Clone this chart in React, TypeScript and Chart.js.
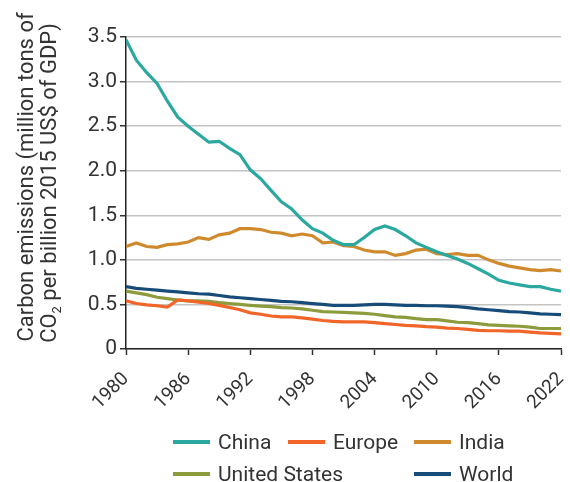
import React, { useEffect, useRef } from 'react';
import { Chart, registerables } from 'chart.js';

Chart.register(...registerables);

const years = [
  1980, 1981, 1982, 1983, 1984, 1985, 1986, 1987, 1988, 1989,
  1990, 1991, 1992, 1993, 1994, 1995, 1996, 1997, 1998, 1999,
  2000, 2001, 2002, 2003, 2004, 2005, 2006, 2007, 2008, 2009,
  2010, 2011, 2012, 2013, 2014, 2015, 2016, 2017, 2018, 2019,
  2020, 2021, 2022,
];

const xTickYears = [1980, 1986, 1992, 1998, 2004, 2010, 2016, 2022];
const yTickValues = [0, 0.5, 1.0, 1.5, 2.0, 2.5, 3.0, 3.5];

const china = [
  3.47, 3.24, 3.1, 2.98, 2.78, 2.6, 2.5, 2.41, 2.32, 2.33,
  2.25, 2.18, 2.01, 1.91, 1.78, 1.65, 1.57, 1.45, 1.35, 1.3,
  1.22, 1.17, 1.17, 1.25, 1.34, 1.38, 1.34, 1.27, 1.19, 1.14,
  1.09, 1.05, 1.01, 0.96, 0.9, 0.84, 0.77, 0.74, 0.72, 0.7,
  0.7, 0.67, 0.65,
];

const europe = [
  0.54, 0.51, 0.495, 0.485, 0.47, 0.55, 0.54, 0.525, 0.51, 0.49,
  0.465, 0.44, 0.405, 0.39, 0.37, 0.36, 0.36, 0.35, 0.335, 0.32,
  0.31, 0.305, 0.305, 0.305, 0.295, 0.285, 0.275, 0.265, 0.26, 0.25,
  0.245, 0.235, 0.23, 0.22, 0.21, 0.205, 0.205, 0.2, 0.2, 0.19,
  0.18, 0.175, 0.17,
];

const india = [
  1.15, 1.19, 1.15, 1.14, 1.17, 1.18, 1.2, 1.25, 1.23, 1.28,
  1.3, 1.35, 1.35, 1.34, 1.31, 1.3, 1.27, 1.29, 1.27, 1.19,
  1.2, 1.16, 1.15, 1.11, 1.09, 1.09, 1.05, 1.07, 1.11, 1.12,
  1.07, 1.06, 1.07, 1.05, 1.05, 1.0, 0.96, 0.93, 0.91, 0.89,
  0.88, 0.89, 0.875,
];

const unitedStates = [
  0.65, 0.63, 0.61, 0.58, 0.565, 0.55, 0.54, 0.54, 0.535, 0.52,
  0.51, 0.5, 0.49, 0.48, 0.475, 0.465, 0.46, 0.45, 0.435, 0.42,
  0.415, 0.41, 0.405, 0.4, 0.39, 0.375, 0.36, 0.355, 0.34, 0.33,
  0.33, 0.315, 0.3, 0.295, 0.285, 0.27, 0.265, 0.26, 0.255, 0.245,
  0.23, 0.23, 0.23,
];

const world = [
  0.7, 0.68, 0.67, 0.66, 0.65, 0.64, 0.63, 0.62, 0.615, 0.6,
  0.585, 0.575, 0.565, 0.555, 0.545, 0.535, 0.53, 0.52, 0.51, 0.5,
  0.49, 0.49, 0.49, 0.495, 0.5, 0.5, 0.495, 0.49, 0.49, 0.485,
  0.485, 0.48, 0.475, 0.465, 0.45, 0.44, 0.43, 0.42, 0.415, 0.405,
  0.395, 0.39, 0.385,
];

const seriesNames = ['China', 'Europe', 'India', 'United States', 'World'];
const seriesColors = ['#2ba8a0', '#f26528', '#d08a2e', '#8c9c3c', '#184c78'];
const seriesValues = [china, europe, india, unitedStates, world];

const FONT = 'Roboto, "Noto Sans", sans-serif';
const TEXT = '#333333';

const yTitleLine1 = 'Carbon emissions (million tons of';
const yTitleLine2a = 'CO';
const yTitleSub = '2';
const yTitleLine2b = ' per billion 2015 US$ of GDP)';

const yTitlePlugin = {
  id: 'yTitleDraw',
  afterDraw(chart: any) {
    const ctx = chart.ctx as CanvasRenderingContext2D;
    ctx.save();
    ctx.fillStyle = TEXT;
    ctx.textBaseline = 'alphabetic';
    const main = `22px ${FONT}`;
    const sub = `13px ${FONT}`;
    // line 1
    ctx.font = main;
    const w1 = ctx.measureText(yTitleLine1).width;
    ctx.save();
    ctx.translate(33, 177);
    ctx.rotate(-Math.PI / 2);
    ctx.textAlign = 'left';
    ctx.fillText(yTitleLine1, -w1 / 2, 0);
    ctx.restore();
    // line 2
    ctx.font = main;
    const wa = ctx.measureText(yTitleLine2a).width;
    const wb = ctx.measureText(yTitleLine2b).width;
    ctx.font = sub;
    const ws = ctx.measureText(yTitleSub).width;
    const total = wa + ws + wb;
    ctx.save();
    ctx.translate(56, 183);
    ctx.rotate(-Math.PI / 2);
    ctx.textAlign = 'left';
    let x = -total / 2;
    ctx.font = main;
    ctx.fillText(yTitleLine2a, x, 0);
    x += wa;
    ctx.font = sub;
    ctx.fillText(yTitleSub, x, 5);
    x += ws;
    ctx.font = main;
    ctx.fillText(yTitleLine2b, x, 0);
    ctx.restore();
    ctx.restore();
  },
};

export default function App() {
  const canvasRef = useRef<HTMLCanvasElement | null>(null);

  useEffect(() => {
    if (!canvasRef.current) return;
    const datasets = seriesNames.map((name, i) => ({
      label: name,
      data: seriesValues[i].map((v, j) => ({ x: years[j], y: v })),
      borderColor: seriesColors[i],
      backgroundColor: seriesColors[i],
      borderWidth: 3.2,
      pointRadius: 0,
      tension: 0,
      fill: false,
      order: i === 0 ? 0 : i + 1,
    }));
    const chart = new Chart(canvasRef.current, {
      type: 'line',
      data: { datasets },
      options: {
        animation: false,
        responsive: true,
        maintainAspectRatio: false,
        layout: { padding: { left: 0, right: 9, top: 37, bottom: 63 } },
        plugins: {
          legend: { display: false },
          tooltip: { enabled: false },
        },
        scales: {
          x: {
            type: 'linear',
            min: 1980,
            max: 2022,
            afterBuildTicks: (s: any) => {
              s.ticks = xTickYears.map((v) => ({ value: v }));
            },
            ticks: {
              autoSkip: false,
              maxRotation: 45,
              minRotation: 45,
              padding: 13,
              color: TEXT,
              font: { family: FONT, size: 19 },
              callback: (v: any) => String(v),
            },
            grid: {
              drawOnChartArea: false,
              drawTicks: true,
              tickLength: 6,
              tickColor: '#333',
              tickWidth: 1.5,
            },
            border: { color: '#222', width: 1.5 },
            afterFit: (s: any) => {
              s.height = 70;
              s.paddingLeft = 0;
              s.paddingRight = 0;
            },
          },
          y: {
            type: 'linear',
            min: 0,
            max: 3.5,
            afterBuildTicks: (s: any) => {
              s.ticks = yTickValues.map((v) => ({ value: v }));
            },
            ticks: {
              padding: 3,
              color: TEXT,
              font: { family: FONT, size: 21 },
              callback: (v: any) => (Number(v) === 0 ? '0' : Number(v).toFixed(1)),
            },
            grid: {
              color: '#c4c4c4',
              lineWidth: 1.5,
              tickColor: '#333',
              tickLength: 6,
              tickWidth: 1.5,
            },
            border: { color: '#222', width: 1.5 },
            afterFit: (s: any) => {
              s.width = 126;
              s.paddingTop = 0;
              s.paddingBottom = 0;
            },
          },
        },
      },
      plugins: [yTitlePlugin],
    });
    return () => chart.destroy();
  }, []);

  const legendPos = [
    { col: 1, row: 1 },
    { col: 2, row: 1 },
    { col: 3, row: 1 },
    { col: 1, row: 2 },
    { col: 3, row: 2 },
  ];

  return (
    <div style={{ position: 'fixed', left: 0, top: 0, width: 570, height: 482, background: '#fff' }}>
      <canvas ref={canvasRef} style={{ display: 'block' }} />
      <div
        style={{
          position: 'absolute',
          left: 173,
          top: 426,
          display: 'grid',
          gridTemplateColumns: '115px 126px 130px',
          gridAutoRows: '32px',
          fontFamily: FONT,
          fontSize: 21,
          color: TEXT,
        }}
      >
        {seriesNames.map((name, i) => (
          <div
            key={name}
            style={{
              gridColumn: legendPos[i].col,
              gridRow: legendPos[i].row,
              display: 'flex',
              alignItems: 'center',
              whiteSpace: 'nowrap',
            }}
          >
            <span
              style={{
                display: 'inline-block',
                flexShrink: 0,
                width: 37,
                height: 4,
                background: seriesColors[i],
                marginRight: 8,
              }}
            />
            <span>{name}</span>
          </div>
        ))}
      </div>
    </div>
  );
}
